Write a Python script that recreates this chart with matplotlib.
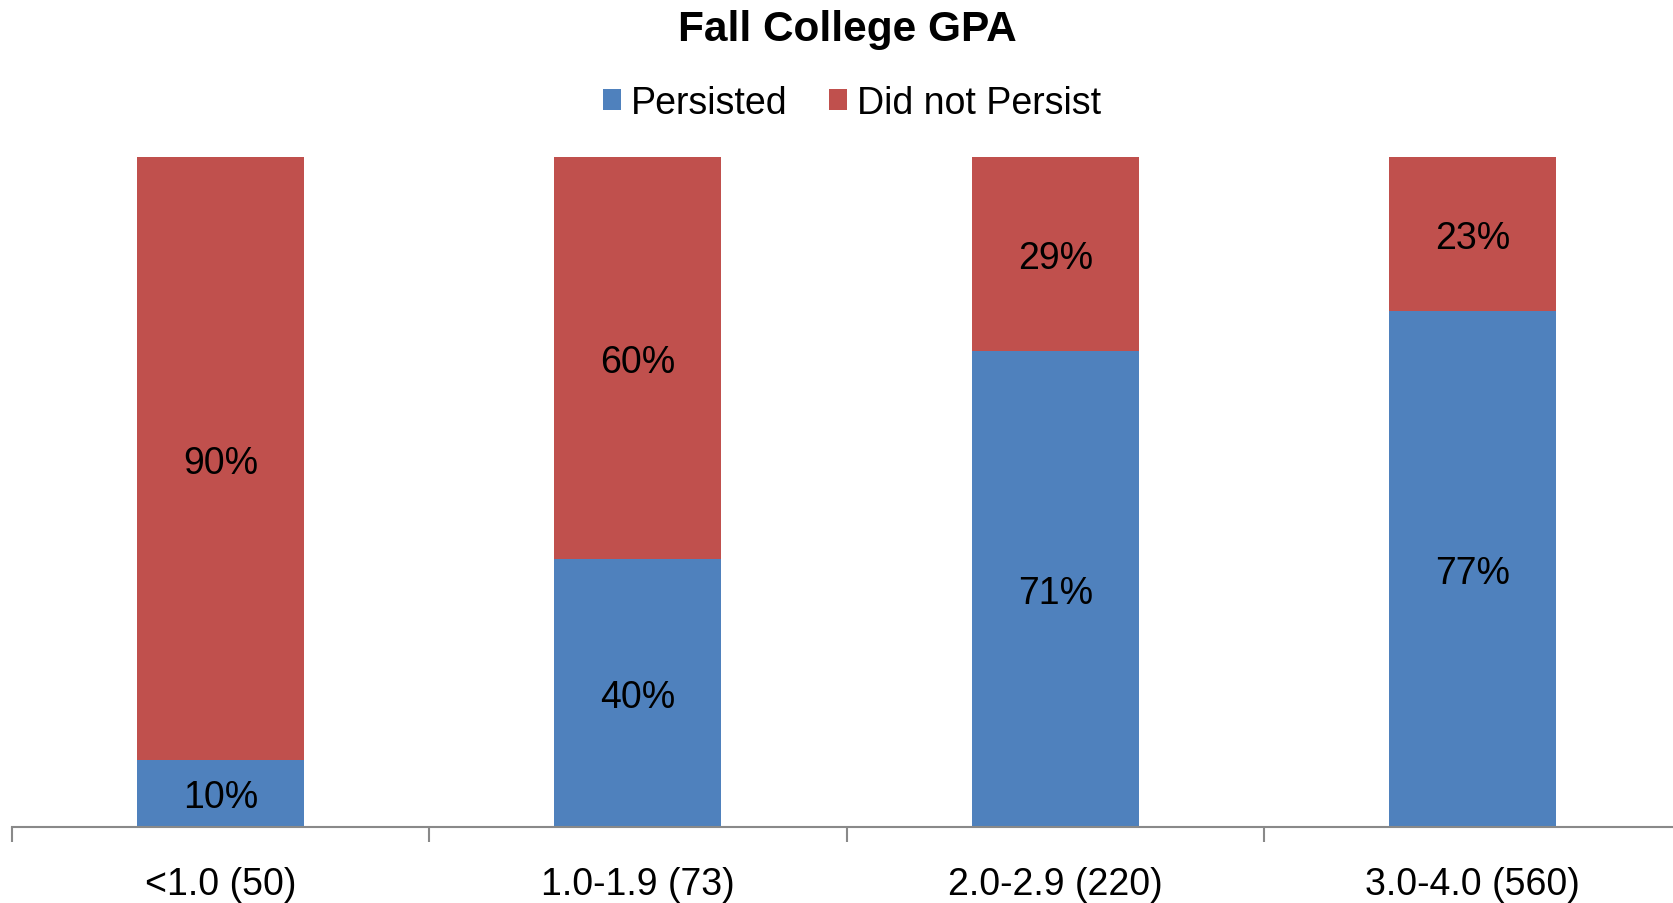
import matplotlib
matplotlib.use("Agg")
import matplotlib.pyplot as plt
import numpy as np

plt.rcParams["font.family"] = ["Liberation Sans", "DejaVu Sans"]

categories = ["<1.0 (50)", "1.0-1.9 (73)", "2.0-2.9 (220)", "3.0-4.0 (560)"]
persisted = [10, 40, 71, 77]
not_persist = [90, 60, 29, 23]

blue, red = "#4F81BD", "#C0504D"

fig = plt.figure(figsize=(16.74, 9.04), dpi=100)
ax = fig.add_axes([12 / 1674, 76.3 / 904, 4 * 417.3 / 1674, (827.7 - 158) / 904])

x = np.arange(len(categories))
p = np.array(persisted) / 100
q = np.array(not_persist) / 100
ax.bar(x, p, width=0.4, color=blue, label="Persisted")
ax.bar(x, q, width=0.4, bottom=p, color=red, label="Did not Persist")

# 数据标签:段中心,略向下偏
for i in x:
    for y, v in ((p[i] / 2, persisted[i]), (p[i] + q[i] / 2, not_persist[i])):
        ax.annotate(f"{v}%", (i, y), xytext=(0, -3), textcoords="offset points",
                    ha="center", va="center", fontsize=27)

ax.set_xlim(-0.5, 3.5)
ax.set_ylim(0, 1)
ax.set_yticks([])
for s in ("top", "right", "left"):
    ax.spines[s].set_visible(False)
ax.spines["bottom"].set_color("#898989")
ax.spines["bottom"].set_linewidth(1.5)

ax.set_xticks(np.arange(-0.5, 4, 1))
ax.set_xticklabels([])
ax.tick_params(axis="x", length=11, width=1.5, color="#898989")
ax.set_xticks(x, minor=True)
ax.set_xticklabels(categories, minor=True, fontsize=27)
ax.tick_params(axis="x", which="minor", length=0, pad=28)

fig.text(847 / 1674, 1 - 30 / 904, "Fall College GPA", ha="center", va="center",
         fontsize=30.5, fontweight="bold")
fig.legend(loc="center", bbox_to_anchor=(852 / 1674, 1 - 104 / 904), ncol=2, frameon=False,
           fontsize=27, handlelength=0.48, handleheight=0.48, handletextpad=0.27,
           columnspacing=1.1)

fig.savefig("out.png", dpi=100)
